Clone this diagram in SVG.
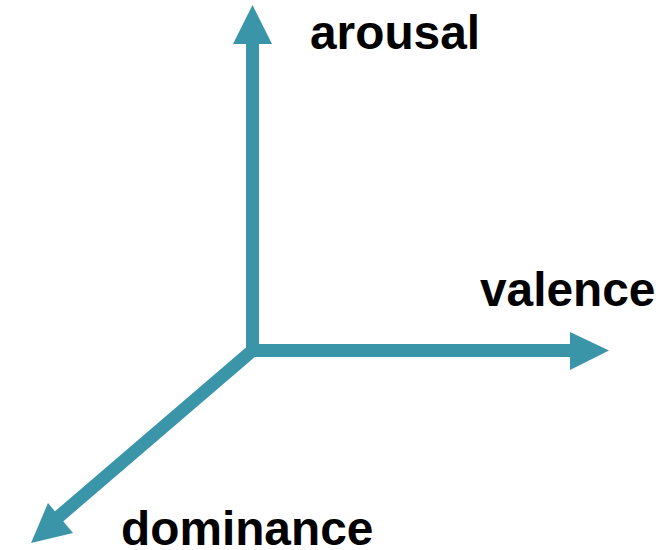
<svg xmlns="http://www.w3.org/2000/svg" width="666" height="550" viewBox="0 0 666 550">
<style>
.ax{stroke:#3a95a8;stroke-width:13;fill:none}
.hd{fill:#3a95a8}
.lb{font-family:"Liberation Sans",Arial,sans-serif;font-weight:bold;font-size:47.8px;fill:#000}
</style>
<rect width="666" height="550" fill="#fff"/>
<g id="connectors">
<path class="ax" d="M252.5,42 V350.5 H572"/>
<path class="ax" d="M252.5,350.5 L56,519"/>
<polygon class="hd" points="252.5,5 272,44 233,44"/>
<polygon class="hd" points="609,350.5 570,332 570,370"/>
<polygon class="hd" points="31,543 48,503 73,533"/>
</g>
<g id="arousal"><text class="lb" x="310" y="49">arousal</text></g>
<g id="valence"><text class="lb" x="480" y="306">valence</text></g>
<g id="dominance"><text class="lb" x="121" y="545">dominance</text></g>
</svg>
